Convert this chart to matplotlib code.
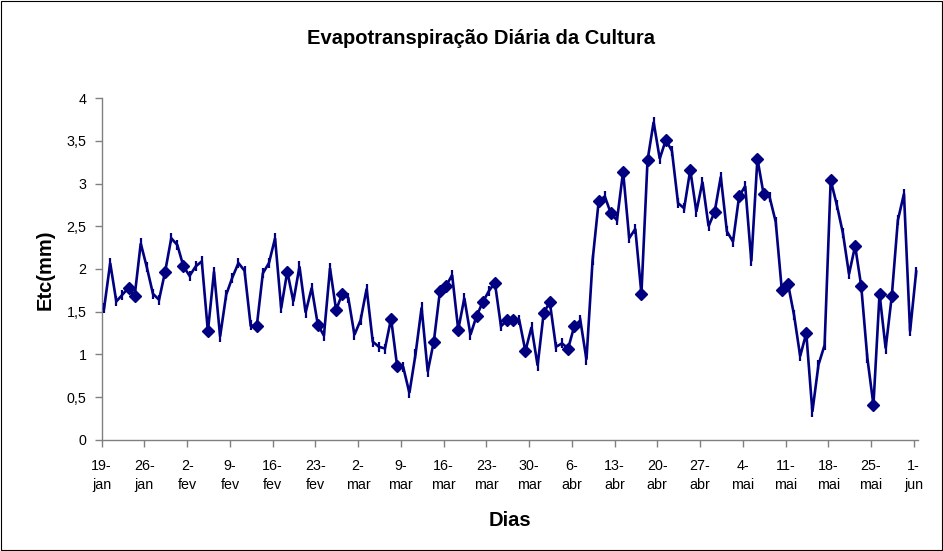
import numpy as np
import matplotlib
matplotlib.use("Agg")
import matplotlib.pyplot as plt
from matplotlib.patches import Rectangle

plt.rcParams['font.family'] = ['Liberation Sans', 'DejaVu Sans']

# Daily crop evapotranspiration (mm), 19-jan .. 1-jun
etc = [
    1.54, 2.07, 1.62, 1.70, 1.78, 1.68, 2.30, 2.02, 1.71, 1.64,
    1.97, 2.36, 2.28, 2.03, 1.92, 2.03, 2.09, 1.27, 1.97, 1.21,
    1.70, 1.90, 2.07, 1.98, 1.34, 1.33, 1.95, 2.07, 2.36, 1.54,
    1.97, 1.62, 2.03, 1.49, 1.78, 1.35, 1.22, 2.01, 1.52, 1.71,
    1.66, 1.23, 1.40, 1.77, 1.15, 1.09, 1.07, 1.42, 0.86, 0.85,
    0.55, 1.00, 1.55, 0.80, 1.15, 1.74, 1.80, 1.93, 1.29, 1.66,
    1.23, 1.45, 1.61, 1.74, 1.84, 1.33, 1.40, 1.40, 1.40, 1.04,
    1.32, 0.87, 1.49, 1.61, 1.09, 1.13, 1.07, 1.33, 1.40, 0.94,
    2.10, 2.79, 2.85, 2.65, 2.57, 3.14, 2.36, 2.47, 1.71, 3.27,
    3.72, 3.29, 3.51, 3.38, 2.77, 2.71, 3.16, 2.67, 3.02, 2.50,
    2.67, 3.08, 2.44, 2.32, 2.85, 2.97, 2.09, 3.29, 2.88, 2.84,
    2.55, 1.75, 1.83, 1.46, 0.98, 1.25, 0.33, 0.88, 1.11, 3.04,
    2.75, 2.42, 1.94, 2.27, 1.80, 0.96, 0.41, 1.71, 1.07, 1.68,
    2.57, 2.88, 1.27, 1.97,
]

# Days (index into etc) that carry a diamond marker
diamond_days = [4, 5, 10, 13, 17, 25, 30, 35, 38, 39, 47, 48, 54, 55, 56,
                58, 61, 62, 64, 66, 67, 69, 72, 73, 76, 77, 81, 83, 85, 88,
                89, 92, 96, 100, 104, 107, 108, 111, 112, 115, 119, 123,
                124, 126, 127, 129]

tick_labels = ["19-\njan", "26-\njan", "2-\nfev", "9-\nfev", "16-\nfev",
               "23-\nfev", "2-\nmar", "9-\nmar", "16-\nmar", "23-\nmar",
               "30-\nmar", "6-\nabr", "13-\nabr", "20-\nabr", "27-\nabr",
               "4-\nmai", "11-\nmai", "18-\nmai", "25-\nmai", "1-\njun"]

y_ticks = [0, 0.5, 1, 1.5, 2, 2.5, 3, 3.5, 4]
y_tick_labels = ["0", "0,5", "1", "1,5", "2", "2,5", "3", "3,5", "4"]

title = "Evapotranspiração Diária da Cultura"
xlabel = "Dias"
ylabel = "Etc(mm)"

color = "#000080"

fig = plt.figure(figsize=(9.43, 5.51), dpi=100)
ax = fig.add_axes([0.1078, 0.2015, 0.9735 - 0.1078, 0.8221 - 0.2015])

offset = 0.4
x = np.arange(len(etc)) + offset
vals = np.array(etc)
ax.plot(x, vals, color=color, lw=1.9, marker='|', markersize=7,
        markeredgewidth=1.6, solid_joinstyle='miter', zorder=3)
dd = np.array(diamond_days)
ax.plot(x[dd], vals[dd], linestyle='none', marker='D', markersize=6.5,
        color=color, markeredgecolor=color, zorder=4)

ax.set_xlim(0, 133.7)
ax.set_ylim(0, 4)
ax.set_xticks(np.arange(len(tick_labels)) * 7)
ax.set_xticklabels(tick_labels, fontsize=10.3, linespacing=1.45)
ax.set_yticks(y_ticks)
ax.set_yticklabels(y_tick_labels, fontsize=10.3)

for s in ['top', 'right']:
    ax.spines[s].set_visible(False)
for s in ['left', 'bottom']:
    ax.spines[s].set_color('#808080')
    ax.spines[s].set_linewidth(1.0)
ax.tick_params(axis='both', direction='out', length=5, width=1.0,
               color='#808080', labelcolor='black')
ax.tick_params(axis='x', pad=9)
ax.tick_params(axis='y', pad=6)

fig.text(0.5105, 1 - 38 / 551, title, ha='center', va='center',
         fontsize=14.5, fontweight='bold')
fig.text(45 / 943, 1 - 270 / 551, ylabel, ha='center', va='center',
         rotation=90, fontsize=14.5, fontweight='bold')
fig.text(510 / 943, 1 - 520 / 551, xlabel, ha='center', va='center',
         fontsize=14.5, fontweight='bold')

fig.patches.append(Rectangle((0.0015, 0.002), 0.997, 0.996,
                             transform=fig.transFigure, fill=False,
                             edgecolor='black', linewidth=0.8))

fig.savefig("out.png", dpi=100)
